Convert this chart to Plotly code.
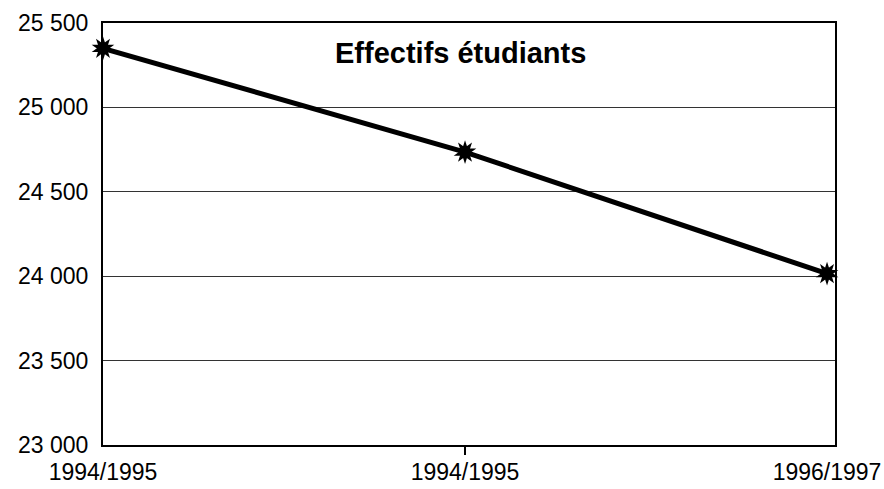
import plotly.graph_objects as go

# Data
years = ["1994/1995", "1994/1995", "1996/1997"]
x_pos = [0, 1, 2]
students = [25350, 24735, 24015]
y_ticks = [23000, 23500, 24000, 24500, 25000, 25500]
y_tick_labels = ["23 000", "23 500", "24 000", "24 500", "25 000", "25 500"]
title = "Effectifs étudiants"

FONT = "Liberation Sans, Arial, sans-serif"

fig = go.Figure()
fig.add_trace(go.Scatter(
    x=x_pos, y=students, mode="lines",
    line=dict(color="black", width=5), hoverinfo="skip", showlegend=False,
))
for ang in (0, 36):
    fig.add_trace(go.Scatter(
        x=x_pos, y=students, mode="markers",
        marker=dict(symbol="star", size=17, color="black", angle=ang,
                    line=dict(width=0)),
        showlegend=False, cliponaxis=False,
    ))
# overlay axis carrying only the middle tick mark
fig.add_trace(go.Scatter(x=x_pos, y=students, mode="markers",
                         marker=dict(opacity=0), xaxis="x2", showlegend=False,
                         hoverinfo="skip"))

fig.update_layout(
    width=884, height=489,
    margin=dict(l=103, r=49, t=23, b=44),
    paper_bgcolor="white", plot_bgcolor="white",
    font=dict(family=FONT, color="black", size=23),
    xaxis=dict(
        range=[0, 2.022], tickvals=x_pos, ticktext=years,
        showgrid=False, zeroline=False, ticks="", automargin=False,
        showline=True, linecolor="black", linewidth=2, mirror=True,
        tickfont=dict(size=23), ticklabelstandoff=5,
    ),
    xaxis2=dict(
        overlaying="x", anchor="y", side="bottom", range=[0, 2.022],
        tickvals=[x_pos[1]], ticktext=[""], ticks="outside", ticklen=9,
        tickwidth=2, tickcolor="black", showgrid=False, zeroline=False,
        showline=False, automargin=False,
    ),
    yaxis=dict(
        range=[23000, 25500], tickvals=y_ticks, ticktext=y_tick_labels,
        showgrid=True, gridcolor="#333333", gridwidth=1, zeroline=False,
        showline=True, linecolor="black", linewidth=2, mirror=True,
        ticks="", ticklabelstandoff=8, tickfont=dict(size=23),
        automargin=False,
    ),
    annotations=[dict(
        text="<b>" + title + "</b>", xref="paper", yref="paper",
        x=0.489, y=0.929, showarrow=False, font=dict(size=29, family=FONT),
        xanchor="center", yanchor="middle",
    )],
)

fig.write_html(
    "out.html",
    config={"displayModeBar": False},
    post_script="document.body.style.margin='0';document.body.style.overflow='hidden';",
)
